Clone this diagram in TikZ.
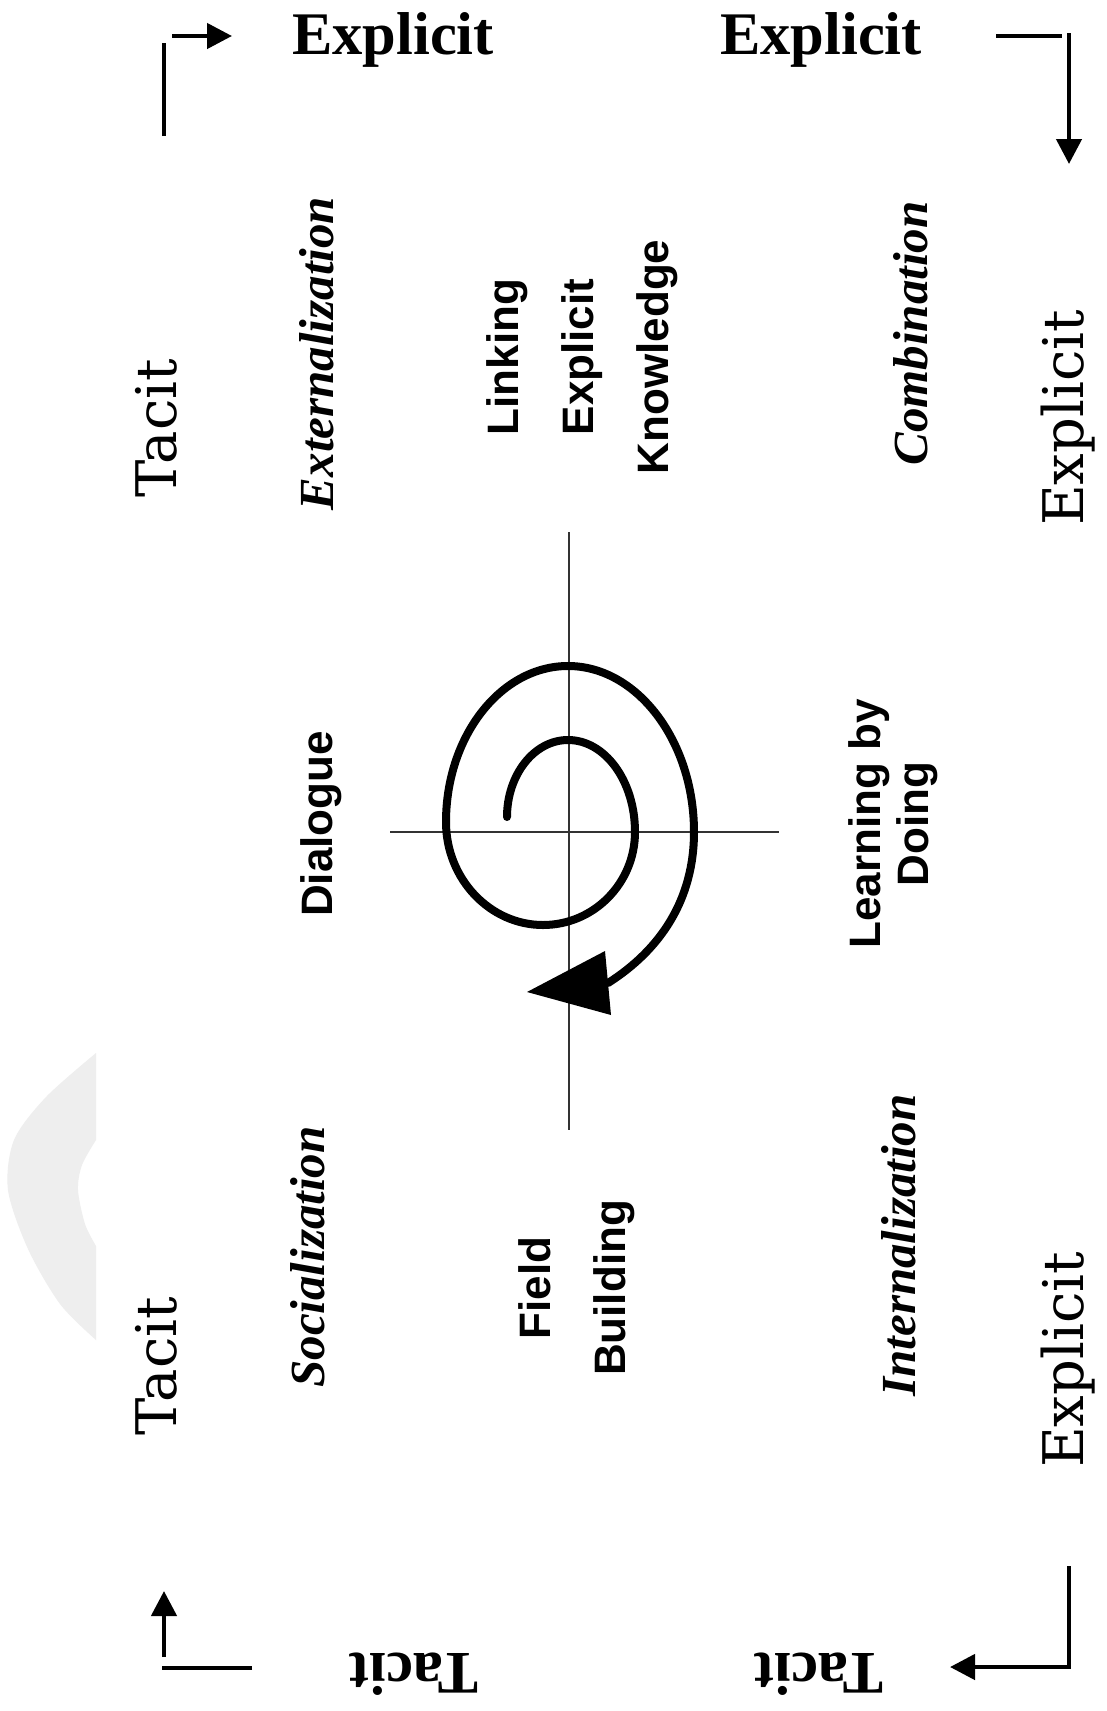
\documentclass[tikz,border=0pt]{standalone}
\usepackage{fontspec}
\setmainfont{Liberation Serif}
\newfontfamily\dvserif{DejaVu Serif}
\newfontfamily\lsans{Liberation Sans}
\usetikzlibrary{arrows.meta}
\definecolor{wm}{HTML}{EEEEEE}
\tikzset{
  hbold/.style={font=\fontsize{60.5}{62}\selectfont\bfseries, inner sep=0pt},
  axislab/.style={font=\dvserif\fontsize{56}{60}\selectfont, inner sep=0pt, rotate=90, anchor=base},
  modelab/.style={font=\fontsize{49}{52}\selectfont\bfseries\itshape, inner sep=0pt, rotate=90},
  actlab/.style={font=\lsans\bfseries\fontsize{44}{75}\selectfont, inner sep=0pt, rotate=90, align=center},
  cornerline/.style={line width=4.5pt},
  cornerarrow/.style={line width=4.5pt, -{Triangle[length=25pt,width=25pt]}},
  crossline/.style={line width=2pt, black!80},
  spiralline/.style={line width=8pt, line cap=round, line join=round}
}
\begin{document}
\begin{tikzpicture}[x=1pt,y=-1pt]
\useasboundingbox (0,0) rectangle (1106,1711);
\fill[white] (0,0) rectangle (1106,1711);

% watermark crescent
\fill[wm] plot[smooth] coordinates {(96,1053) (46,1097) (14,1140) (8,1190) (28,1249) (60,1304) (96,1340)}
  -- plot[smooth] coordinates {(96,1246) (85,1224) (78,1190) (82,1165) (96,1140)} -- cycle;

% top labels
\node[hbold, anchor=base] (expTL) at (393,54.5) {Explicit};
\node[hbold, anchor=base] (expTR) at (821,54.5) {Explicit};
% bottom upside-down labels
\node[hbold, anchor=base, rotate=180] (tacBL) at (414,1653) {Tacit};
\node[hbold, anchor=base, rotate=180] (tacBR) at (819,1653) {Tacit};

% side axis labels
\node[axislab] (tacL1) at (176,428) {Tacit};
\node[axislab] (tacL2) at (176,1366) {Tacit};
\node[axislab] (expR1) at (1083,418) {Explicit};
\node[axislab] (expR2) at (1083,1360) {Explicit};

% mode labels
\node[modelab] (ext) at (316.5,353.5) {Externalization};
\node[modelab] (comb) at (911,333.5) {Combination};
\node[modelab] (soc) at (308,1257) {Socialization};
\node[modelab] (int) at (899,1245.5) {Internalization};

% activity labels
\node[actlab] (link) at (582,357) {Linking\\Explicit\\Knowledge};
\node[actlab] (dial) at (321.5,824) {Dialogue};
\node[actlab, font=\lsans\bfseries\fontsize{44}{48}\selectfont] (lbd) at (893.5,824) {Learning by\\Doing};
\node[actlab] (field) at (577,1288) {Field\\Building};

% corner arrows
\coordinate (tl1) at (164,136); \coordinate (tl2) at (164,43);
\coordinate (tl3) at (172,36);  \coordinate (tl4) at (232,36);
\draw[cornerline] (tl1) -- (tl2);
\draw[cornerarrow] (tl3) -- (tl4);

\coordinate (tr1) at (996,36); \coordinate (tr2) at (1062,36);
\coordinate (tr3) at (1069,33); \coordinate (tr4) at (1069,164);
\draw[cornerline] (tr1) -- (tr2);
\draw[cornerarrow] (tr3) -- (tr4);

\coordinate (bl1) at (252,1668); \coordinate (bl2) at (162,1668);
\coordinate (bl3) at (164,1657); \coordinate (bl4) at (164,1591);
\draw[cornerline] (bl1) -- (bl2);
\draw[cornerarrow] (bl3) -- (bl4);

\coordinate (br1) at (1069,1566); \coordinate (br2) at (950,1667);
\draw[cornerarrow] (br1) |- (br2);

% crosshair
\coordinate (cv1) at (569,532); \coordinate (cv2) at (569,1130);
\coordinate (ch1) at (390,832); \coordinate (ch2) at (779,832);
\draw[crossline] (cv1) -- (cv2);
\draw[crossline] (ch1) -- (ch2);

% spiral
\draw[spiralline] (507,817)
  .. controls (507,775) and (534,740) .. (568,740)
  .. controls (605,740) and (635,781) .. (635,832)
  .. controls (635,883) and (594,925) .. (543,925)
  .. controls (490,925) and (446,879) .. (446,822)
  .. controls (446,736) and (501,666) .. (568,666)
  .. controls (637,666) and (694,741) .. (694,832)
  .. controls (694,900) and (660,950) .. (608,983);
\fill (527,992) -- (605,951) -- (611,1015) -- cycle;
\end{tikzpicture}
\end{document}
